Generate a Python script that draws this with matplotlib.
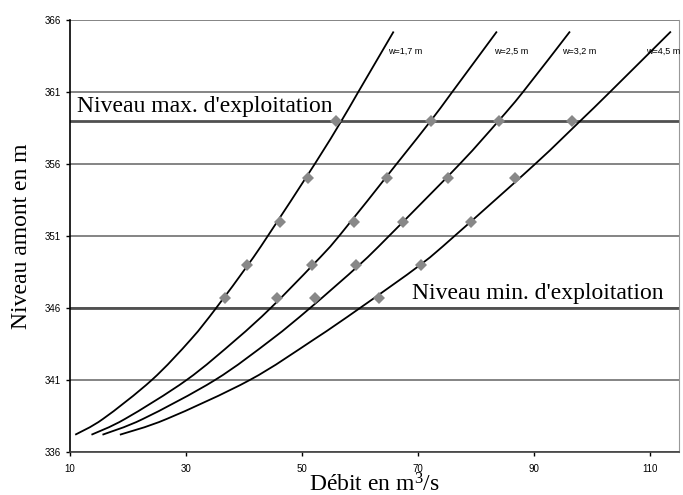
#!/usr/bin/env python3
import numpy as np
import matplotlib
matplotlib.use("Agg")
import matplotlib.pyplot as plt
from matplotlib.path import Path
from matplotlib.patches import PathPatch

plt.rcParams['mathtext.fontset'] = 'custom'
plt.rcParams['mathtext.rm'] = 'Liberation Serif'
plt.rcParams['mathtext.it'] = 'Liberation Serif:italic'

# courbes de tarage
w_labels = ['w=1,7 m', 'w=2,5 m', 'w=3,2 m', 'w=4,5 m']

z_curve = [337.2, 338.3, 341.0, 343.8, 346.0, 349.0, 351.0, 356.0, 359.0, 361.0, 365.2]
q_17 = [10.9, 15.7, 24.1, 30.8, 35.2, 40.7, 44.1, 52.2, 56.8, 59.7, 65.8]
q_25 = [13.7, 19.5, 30.1, 38.6, 44.6, 51.9, 56.4, 66.3, 72.2, 75.9, 83.6]
q_32 = [15.6, 22.6, 35.0, 44.7, 51.4, 59.9, 65.0, 77.2, 83.9, 88.1, 96.2]
q_45 = [18.6, 26.7, 41.0, 52.0, 60.0, 70.4, 76.3, 90.2, 98.0, 103.1, 113.6]

# points mesures
pt_z = [346.7, 349.0, 352.0, 355.0, 359.0]
pt_17 = [36.7, 40.6, 46.2, 51.1, 55.9]
pt_25 = [45.7, 51.7, 59.0, 64.6, 72.2]
pt_32 = [52.2, 59.3, 67.4, 75.1, 84.0]
pt_45 = [63.3, 70.6, 79.1, 86.8, 96.6]

z_max = 359
z_min = 346

x_ticks = [10, 30, 50, 70, 90, 110]
y_ticks = [336, 341, 346, 351, 356, 361, 366]


def smooth_path(xs, ys):
    # excel-like smoothed line: bezier segments through every point
    p = np.column_stack([xs, ys])
    pp = np.vstack([p[0], p, p[-1]])
    verts = [p[0]]
    codes = [Path.MOVETO]
    for i in range(len(p) - 1):
        a, b, c, d = pp[i], pp[i + 1], pp[i + 2], pp[i + 3]
        verts += [b + (c - a) / 6, c - (d - b) / 6, c]
        codes += [Path.CURVE4] * 3
    return Path(verts, codes)


fig = plt.figure(figsize=(6.83, 4.95), dpi=100)
ax = fig.add_axes([70/683, 1 - 452/495, 609/683, 432/495])

for y in y_ticks:
    ax.axhline(y, color='#707070', lw=1.2, zorder=1)
ax.axhline(z_max, color='#505050', lw=2.0, zorder=1)
ax.axhline(z_min, color='#505050', lw=2.0, zorder=1)

for q in [q_17, q_25, q_32, q_45]:
    ax.add_patch(PathPatch(smooth_path(q, z_curve), facecolor='none',
                           edgecolor='black', lw=1.3, zorder=3))

for pts in [pt_17, pt_25, pt_32, pt_45]:
    ax.plot(pts, pt_z, linestyle='none', marker='D', color='#888888',
            markersize=6, markeredgewidth=0, zorder=4)

lab_pos = [(64.8, 363.8), (83.1, 363.8), (94.8, 363.8), (109.3, 363.8)]
for lab, (xx, yy) in zip(w_labels, lab_pos):
    ax.text(xx, yy, lab, fontsize=6.5, family='Liberation Sans', va='center',
            ha='left', zorder=5, clip_on=False)

ax.text(11.2, 359.25, "Niveau max. d'exploitation", family='Liberation Serif',
        fontsize=17, va='bottom', ha='left', zorder=5)
ax.text(68.9, 346.3, "Niveau min. d'exploitation", family='Liberation Serif',
        fontsize=17, va='bottom', ha='left', zorder=5)

ax.set_xlim(10, 115)
ax.set_ylim(336, 366)
ax.set_xticks(x_ticks)
ax.set_yticks(y_ticks)
ax.tick_params(direction='out', length=3, width=1, labelsize=7, color='black')
for lab in ax.get_xticklabels() + ax.get_yticklabels():
    lab.set_family('Liberation Sans')
ax.tick_params(axis='x', pad=6)

ax.spines['left'].set_color('black')
ax.spines['left'].set_linewidth(1.2)
ax.spines['bottom'].set_color('#404040')
ax.spines['bottom'].set_linewidth(1.2)
ax.spines['top'].set_visible(False)
ax.spines['right'].set_color('#999999')
ax.spines['right'].set_linewidth(0.8)

ax.set_xlabel('Débit en m$^3$/s', family='Liberation Serif', fontsize=17, labelpad=-1)
ax.set_ylabel('Niveau amont en m', family='Liberation Serif', fontsize=17, labelpad=9)

fig.savefig('out.png', dpi=100)
